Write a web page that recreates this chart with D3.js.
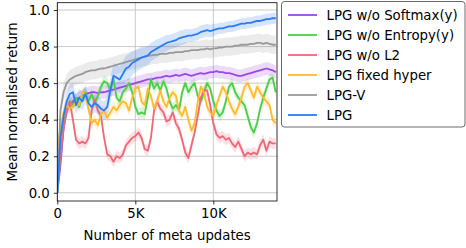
<!DOCTYPE html>
<html><head><meta charset="utf-8">
<script src="https://cdn.jsdelivr.net/npm/d3@7"></script>
<style>body{margin:0;background:#fff}svg{display:block}text{font-family:"DejaVu Sans",sans-serif}</style>
</head><body><svg id="c" width="466" height="248"></svg>
<script>
// x grid (meta updates), step 200
const updates = d3.range(0, 14001, 200);
const seriesNames = ["LPG w/o Softmax(y)","LPG w/o Entropy(y)","LPG w/o L2","LPG fixed hyper","LPG-V","LPG"];
const seriesColors = ["#9a48e6","#4ccf45","#f06878","#ffbb2c","#999999","#2b7bf6"];
const spreads = [0.035,0.03,0.03,0.03,0.05,0.04];
const softmaxVals = [0.0,0.15,0.35,0.45,0.48,0.50,0.51,0.52,0.53,0.54,0.545,0.55,0.55,0.545,0.55,0.55,0.555,0.56,0.565,0.57,0.575,0.58,0.585,0.59,0.595,0.60,0.605,0.61,0.615,0.62,0.62,0.625,0.63,0.63,0.635,0.64,0.635,0.64,0.645,0.64,0.645,0.65,0.645,0.64,0.645,0.65,0.655,0.65,0.655,0.66,0.66,0.665,0.66,0.66,0.655,0.655,0.65,0.645,0.64,0.64,0.645,0.65,0.655,0.66,0.665,0.67,0.675,0.68,0.675,0.67,0.66];
const entropyVals = [0.0,0.2,0.38,0.45,0.50,0.48,0.52,0.47,0.53,0.55,0.50,0.54,0.49,0.53,0.58,0.61,0.60,0.56,0.625,0.52,0.50,0.55,0.57,0.60,0.55,0.47,0.43,0.44,0.43,0.52,0.62,0.57,0.60,0.56,0.61,0.57,0.50,0.46,0.48,0.45,0.55,0.60,0.55,0.58,0.60,0.53,0.50,0.55,0.60,0.57,0.50,0.45,0.42,0.44,0.50,0.58,0.60,0.55,0.52,0.50,0.48,0.42,0.36,0.33,0.38,0.46,0.52,0.57,0.62,0.63,0.55];
const l2Vals = [0.05,0.2,0.35,0.45,0.50,0.40,0.29,0.27,0.28,0.27,0.30,0.45,0.51,0.45,0.42,0.30,0.21,0.20,0.17,0.20,0.19,0.21,0.26,0.28,0.30,0.31,0.33,0.30,0.24,0.23,0.30,0.45,0.50,0.46,0.44,0.39,0.40,0.44,0.38,0.35,0.29,0.22,0.19,0.26,0.33,0.42,0.52,0.56,0.56,0.48,0.38,0.32,0.30,0.31,0.29,0.30,0.27,0.25,0.28,0.24,0.20,0.22,0.21,0.22,0.21,0.26,0.29,0.23,0.28,0.27,0.27];
const fixedVals = [0.25,0.35,0.44,0.48,0.46,0.47,0.50,0.48,0.55,0.54,0.46,0.38,0.40,0.37,0.43,0.45,0.41,0.44,0.47,0.45,0.48,0.50,0.49,0.45,0.52,0.57,0.58,0.50,0.48,0.57,0.53,0.46,0.50,0.56,0.50,0.47,0.52,0.55,0.53,0.45,0.42,0.47,0.40,0.34,0.38,0.50,0.58,0.55,0.47,0.44,0.42,0.48,0.53,0.58,0.55,0.50,0.46,0.43,0.47,0.52,0.58,0.60,0.56,0.52,0.58,0.55,0.52,0.50,0.48,0.40,0.38];
const lpgvVals = [0.0,0.45,0.55,0.60,0.62,0.63,0.64,0.645,0.65,0.66,0.665,0.67,0.67,0.675,0.68,0.68,0.685,0.69,0.695,0.70,0.705,0.71,0.715,0.72,0.725,0.73,0.735,0.74,0.745,0.75,0.75,0.755,0.755,0.76,0.76,0.76,0.765,0.765,0.77,0.77,0.77,0.775,0.775,0.78,0.78,0.78,0.785,0.785,0.79,0.785,0.79,0.79,0.795,0.795,0.80,0.80,0.80,0.805,0.805,0.81,0.81,0.81,0.815,0.815,0.82,0.82,0.815,0.82,0.815,0.81,0.81];
const lpgVals = [0.0,0.30,0.42,0.50,0.54,0.55,0.48,0.52,0.50,0.54,0.49,0.47,0.49,0.48,0.46,0.45,0.47,0.56,0.64,0.63,0.62,0.65,0.68,0.69,0.71,0.72,0.73,0.74,0.745,0.75,0.77,0.78,0.79,0.80,0.81,0.82,0.825,0.83,0.835,0.845,0.85,0.855,0.86,0.86,0.865,0.87,0.88,0.885,0.89,0.885,0.89,0.895,0.90,0.90,0.905,0.91,0.91,0.915,0.92,0.925,0.925,0.93,0.93,0.935,0.94,0.94,0.945,0.95,0.95,0.955,0.955];
// LPG band half-width (wider mid-training)
const lpgSpread = [0.0,0.04,0.05,0.05,0.05,0.05,0.05,0.05,0.05,0.05,0.05,0.05,0.05,0.05,0.05,0.05,0.06,0.07,0.07,0.07,0.07,0.07,0.07,0.07,0.065,0.06,0.06,0.06,0.055,0.055,0.05,0.05,0.05,0.045,0.045,0.045,0.04,0.04,0.04,0.04,0.04,0.04,0.035,0.035,0.035,0.035,0.035,0.035,0.035,0.035,0.035,0.03,0.03,0.03,0.03,0.03,0.03,0.03,0.03,0.03,0.03,0.03,0.03,0.03,0.03,0.03,0.03,0.03,0.03,0.03,0.03];
const xTicks = [0,5000,10000];
const xTickLabels = ["0","5K","10K"];
const yTicks = [0,0.2,0.4,0.6,0.8,1.0];

const allVals = [softmaxVals,entropyVals,l2Vals,fixedVals,lpgvVals,lpgVals];
const L=57.3,R=277,T=2.7,B=201;
const svg=d3.select("#c");
const x=d3.scaleLinear().domain([0,14080]).range([L,R]);
const y=d3.scaleLinear().domain([-0.045,1.04]).range([B,T]);

const g=svg.append("g");
g.selectAll(".gx").data(xTicks).enter().append("line").attr("x1",d=>x(d)).attr("x2",d=>x(d)).attr("y1",T).attr("y2",B).attr("stroke","#c4c4c4").attr("stroke-width",0.9);
g.selectAll(".gy").data(yTicks).enter().append("line").attr("x1",L).attr("x2",R).attr("y1",d=>y(d)).attr("y2",d=>y(d)).attr("stroke","#c4c4c4").attr("stroke-width",0.9);

svg.append("defs").append("clipPath").attr("id","clip").append("rect").attr("x",L).attr("y",T).attr("width",R-L).attr("height",B-T);
const plot=svg.append("g").attr("clip-path","url(#clip)");
allVals.forEach((vals,i)=>{
  const sp=j=> i===5 ? lpgSpread[j] : spreads[i];
  const pts=vals.map((v,j)=>[updates[j],v,sp(j)]);
  const area=d3.area().x(d=>x(d[0])).y0(d=>y(d[1]-d[2])).y1(d=>y(d[1]+d[2]));
  plot.append("path").attr("d",area(pts)).attr("fill",seriesColors[i]).attr("opacity",0.2);
});
allVals.forEach((vals,i)=>{
  const pts=vals.map((v,j)=>[updates[j],v]);
  const line=d3.line().x(d=>x(d[0])).y(d=>y(d[1]));
  plot.append("path").attr("d",line(pts)).attr("fill","none").attr("stroke",seriesColors[i]).attr("stroke-width",1.8).attr("stroke-linejoin","round");
});

const xa=svg.append("g").attr("transform",`translate(0,${B})`).call(d3.axisBottom(x).tickValues(xTicks).tickFormat((d,i)=>xTickLabels[i]).tickSize(3.5).tickPadding(4));
const ya=svg.append("g").attr("transform",`translate(${L},0)`).call(d3.axisLeft(y).tickValues(yTicks).tickFormat(d3.format(".1f")).tickSize(3.5).tickPadding(4));
[xa,ya].forEach(a=>{a.select(".domain").remove();a.selectAll("text").attr("font-size",13.3).attr("fill","#000").attr("font-family","DejaVu Sans");a.selectAll("line").attr("stroke","#000").attr("stroke-width",0.8);});
svg.append("rect").attr("x",L).attr("y",T).attr("width",R-L).attr("height",B-T).attr("fill","none").attr("stroke","#000").attr("stroke-width",0.8);

svg.append("text").attr("x",(L+R)/2).attr("y",240).attr("text-anchor","middle").attr("font-size",13.3).text("Number of meta updates");
svg.append("text").attr("transform",`translate(17,${(T+B)/2}) rotate(-90)`).attr("text-anchor","middle").attr("font-size",13.3).text("Mean normalised return");

const lg=svg.append("g");
lg.append("rect").attr("x",281.5).attr("y",1.5).attr("width",183.5).attr("height",125.5).attr("rx",3).attr("fill","#fff").attr("stroke","#444").attr("stroke-width",0.8);
seriesNames.forEach((n,i)=>{
  const cy=15+i*20;
  lg.append("line").attr("x1",288).attr("x2",317).attr("y1",cy).attr("y2",cy).attr("stroke",seriesColors[i]).attr("stroke-width",1.8);
  lg.append("text").attr("x",326.5).attr("y",cy+4.8).attr("font-size",13.3).text(n);
});
</script></body></html>
